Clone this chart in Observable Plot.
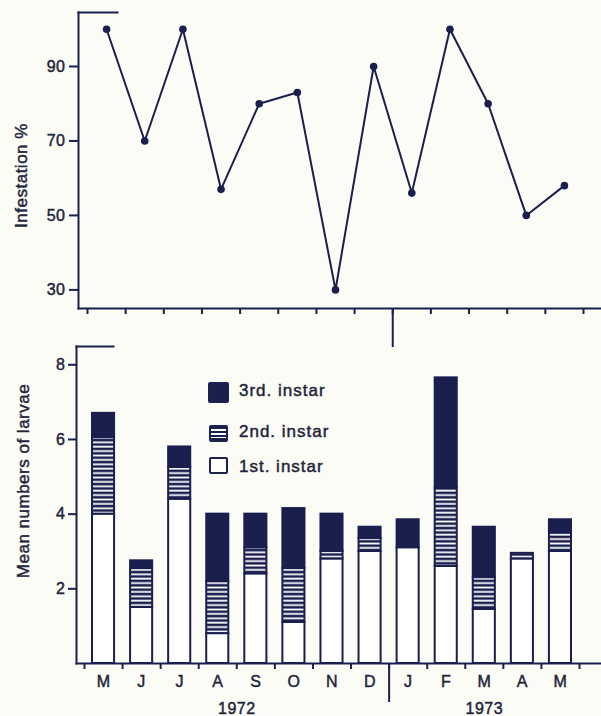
<!DOCTYPE html>
<html><head><meta charset="utf-8">
<script src="https://cdn.jsdelivr.net/npm/d3@7"></script>
<script src="https://cdn.jsdelivr.net/npm/@observablehq/plot@0.6"></script>
<style>
body{margin:0;background:#fcfcf6;}
#wrap{position:relative;width:601px;height:716px;overflow:hidden;font-family:"Liberation Sans",Arial,sans-serif;color:#22243a;}
#wrap svg{position:absolute;left:0;background:transparent;overflow:visible;}
#wrap svg text{stroke:#22243a;stroke-width:0.45px;}
.sw{position:absolute;box-sizing:border-box;border:2px solid #1c2150;border-radius:2px;}
.lt{position:absolute;font-size:17px;letter-spacing:1px;line-height:20px;white-space:nowrap;-webkit-text-stroke:0.45px #22243a;}
</style></head><body><div id="wrap"></div>
<script>
// ---- data ----
const months = ["M","J","J","A","S","O","N","D","J","F","M","A","M"];
const years = ["1972","1973"];
const yearFirstMonth = [0, 8];
const yearMonthCount = [8, 5];
const infestation = [100, 70, 100, 57, 80, 83, 30, 90, 56, 100, 80, 50, 58];
const instar1 = [4.0, 1.5, 4.4, 0.8, 2.4, 1.1, 2.8, 3.0, 3.1, 2.6, 1.45, 2.8, 3.0];
const instar2 = [2.05, 1.05, 0.85, 1.4, 0.7, 1.45, 0.2, 0.35, 0, 2.1, 0.85, 0.15, 0.5];
const instar3 = [0.65, 0.2, 0.55, 1.8, 0.9, 1.6, 1.0, 0.3, 0.75, 2.95, 1.35, 0, 0.35];
const infTicks = [30, 50, 70, 90];
const larvaeTicks = [2, 4, 6, 8];
const stageNames = ["3rd. instar", "2nd. instar", "1st. instar"];
const yTitleTop = "Infestation %";
const yTitleBottom = "Mean numbers of larvae";

const navy = "#1a1f4e";
const ink = "#22243a";
const font = '"Liberation Sans", Arial, sans-serif';
const idx = d3.range(months.length);
const boundaries = d3.range(months.length + 1);
const yearDivider = [yearFirstMonth[1]];
const wrap = document.getElementById("wrap");

// ---- top chart ----
const topChart = Plot.plot({
  width: 601, height: 350,
  marginLeft: 78, marginRight: 0, marginTop: 12, marginBottom: 42,
  style: {background: "transparent", color: ink, fontFamily: font, fontSize: "16px", letterSpacing: "0.5px", overflow: "visible"},
  x: {domain: [0, months.length], range: [87, 583]},
  y: {domain: [25, 104.5]},
  marks: [
    Plot.frame({anchor: "left", stroke: navy, strokeWidth: 2}),
    Plot.frame({anchor: "top", stroke: navy, strokeWidth: 2, insetRight: 484}),
    Plot.frame({anchor: "bottom", stroke: navy, strokeWidth: 2}),
    Plot.axisY(infTicks, {tickSize: 9, tickPadding: 4, stroke: navy, strokeWidth: 2, fill: ink, fontSize: 16, label: null}),
    Plot.axisX(boundaries, {tickSize: 6, tickFormat: () => "", stroke: navy, strokeWidth: 2, label: null}),
    Plot.axisX(yearDivider, {tickSize: 39, tickFormat: () => "", stroke: navy, strokeWidth: 2, label: null}),
    Plot.line(idx, {x: i => i + 0.5, y: i => infestation[i], stroke: navy, strokeWidth: 2}),
    Plot.dot(idx, {x: i => i + 0.5, y: i => infestation[i], r: 3.8, fill: navy}),
    Plot.text([yTitleTop], {frameAnchor: "left", textAnchor: "middle", rotate: -90, dx: -57, dy: 15, fontSize: 17, fill: ink})
  ]
});
topChart.style.top = "0px";
wrap.appendChild(topChart);

// ---- bottom chart ----
const rows = idx.map(i => ({
  i,
  a: instar1[i],
  b: instar1[i] + instar2[i],
  c: instar1[i] + instar2[i] + instar3[i]
}));
const barOpts = {x1: "i", x2: d => d.i + 1, insetLeft: 8, insetRight: 8, stroke: navy, strokeWidth: 2};

const bottomChart = Plot.plot({
  width: 601, height: 386,
  marginLeft: 76, marginRight: 0, marginTop: 16, marginBottom: 53,
  style: {background: "transparent", color: ink, fontFamily: font, fontSize: "16px", letterSpacing: "0.5px", overflow: "visible"},
  x: {domain: [0, months.length], range: [84, 579]},
  y: {domain: [0, 8.49]},
  marks: [
    Plot.rect(rows, {...barOpts, y1: 0, y2: "a", fill: "white"}),
    Plot.rect(rows, {...barOpts, y1: "a", y2: "b", fill: "url(#hatch)"}),
    Plot.rect(rows, {...barOpts, y1: "b", y2: "c", fill: navy}),
    Plot.frame({anchor: "left", stroke: navy, strokeWidth: 2}),
    Plot.frame({anchor: "top", stroke: navy, strokeWidth: 2, insetRight: 488}),
    Plot.frame({anchor: "bottom", stroke: navy, strokeWidth: 2}),
    Plot.axisY(larvaeTicks, {tickSize: 8, tickPadding: 3, stroke: navy, strokeWidth: 2, fill: ink, fontSize: 16, label: null}),
    Plot.axisX(boundaries, {tickSize: 6, tickFormat: () => "", stroke: navy, strokeWidth: 2, label: null}),
    Plot.axisX(yearDivider, {tickSize: 39, tickFormat: () => "", stroke: navy, strokeWidth: 2, label: null}),
    Plot.text(idx, {x: i => i + 0.5, y: 0, dy: 18, text: i => months[i], fontSize: 16, fill: ink}),
    Plot.text(years, {x: (d, k) => yearFirstMonth[k] + yearMonthCount[k] / 2, y: 0, dy: 45, text: d => d, fontSize: 16, fill: ink}),
    Plot.text([yTitleBottom], {frameAnchor: "left", textAnchor: "middle", rotate: -90, dx: -53, dy: -24, fontSize: 17, fill: ink})
  ]
});
bottomChart.style.top = "330px";
const defs = d3.select(bottomChart).insert("defs", ":first-child");
const pat = defs.append("pattern").attr("id", "hatch").attr("patternUnits", "userSpaceOnUse")
  .attr("width", 8).attr("height", 4.4);
pat.append("rect").attr("width", 8).attr("height", 4.4).attr("fill", navy);
pat.append("rect").attr("y", 1.4).attr("width", 8).attr("height", 1.8).attr("fill", "white");
wrap.appendChild(bottomChart);

// ---- legend ----
const swStyles = [
  {left: 208, top: 382, w: 21, h: 21, bg: navy},
  {left: 209, top: 425, w: 19, h: 17, bg: `repeating-linear-gradient(to bottom, ${navy} 0px, ${navy} 2.2px, #fff 2.2px, #fff 3.8px)`},
  {left: 209, top: 457, w: 19, h: 17, bg: "#fff"}
];
const textCenters = [391, 432, 467];
stageNames.forEach((name, k) => {
  const s = swStyles[k];
  const sw = document.createElement("div");
  sw.className = "sw";
  Object.assign(sw.style, {left: s.left + "px", top: s.top + "px", width: s.w + "px", height: s.h + "px", background: s.bg});
  wrap.appendChild(sw);
  const t = document.createElement("div");
  t.className = "lt";
  t.textContent = name;
  Object.assign(t.style, {left: "239px", top: (textCenters[k] - 10) + "px"});
  wrap.appendChild(t);
});
</script></body></html>
